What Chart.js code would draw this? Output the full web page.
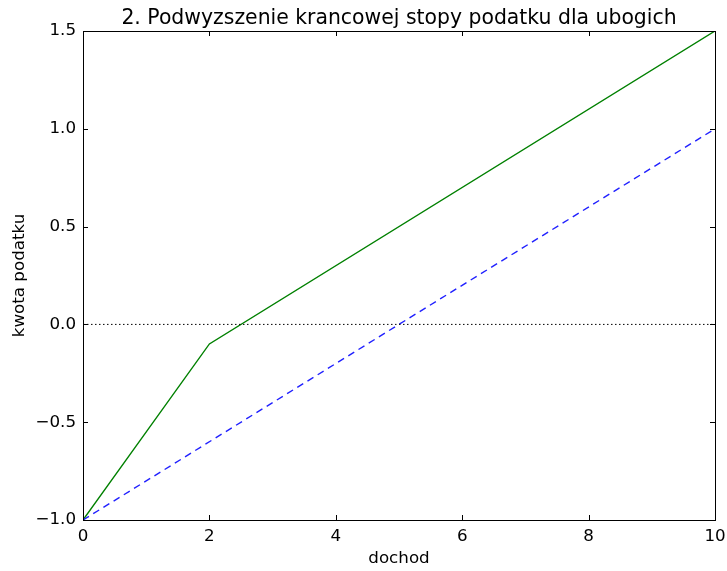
<!DOCTYPE html>
<html>
<head>
<meta charset="utf-8">
<script src="https://cdn.jsdelivr.net/npm/chart.js@4.4.0/dist/chart.umd.min.js"></script>
<style>
  html, body { margin: 0; padding: 0; background: #fff; }
  #wrap { width: 727px; height: 571px; }
</style>
</head>
<body>
<div id="wrap"><canvas id="chart" width="727" height="571"></canvas></div>
<script>
// dane
const incomeKinks = [0, 2, 10];
const taxNew = [-1.0, -0.1, 1.5];
const incomeBase = [0, 10];
const taxBase = [-1.0, 1.0];
const zeroX = [0, 10];
const zeroY = [0, 0];

const xTicks = [0, 2, 4, 6, 8, 10];
const yTicks = [-1.0, -0.5, 0.0, 0.5, 1.0, 1.5];
const chartTitle = '2. Podwyzszenie krancowej stopy podatku dla ubogich';

const toPoints = (xs, ys) => xs.map((x, i) => ({ x: x, y: ys[i] }));
const fmtMinus = (v) => String(v).replace('-', '\u2212');

// ramka, znaczniki do wewnatrz i tytul nad obszarem wykresu (styl matplotlib)
const frameTicks = {
    id: 'frameTicks',
    afterDraw(chart) {
        const { ctx, chartArea: a, scales } = chart;
        ctx.save();
        ctx.strokeStyle = '#000';
        ctx.lineWidth = 1;
        const len = 5;
        ctx.beginPath();
        xTicks.forEach(v => {
            const px = Math.round(scales.x.getPixelForValue(v)) + 0.5;
            ctx.moveTo(px, a.bottom); ctx.lineTo(px, a.bottom - len);
            ctx.moveTo(px, a.top); ctx.lineTo(px, a.top + len);
        });
        yTicks.forEach(v => {
            const py = Math.round(scales.y.getPixelForValue(v)) + 0.5;
            ctx.moveTo(a.left, py); ctx.lineTo(a.left + len, py);
            ctx.moveTo(a.right, py); ctx.lineTo(a.right - len, py);
        });
        ctx.stroke();
        ctx.strokeRect(Math.round(a.left) + 0.5, Math.round(a.top) + 0.5,
            Math.round(a.right - a.left), Math.round(a.bottom - a.top));

        ctx.fillStyle = '#000';
        ctx.font = '20.4px "DejaVu Sans"';
        ctx.textAlign = 'center';
        ctx.textBaseline = 'alphabetic';
        ctx.fillText(chartTitle, (a.left + a.right) / 2, 24);
        ctx.restore();
    }
};

new Chart(document.getElementById('chart'), {
    type: 'line',
    data: {
        datasets: [
            {
                label: 'zero',
                data: toPoints(zeroX, zeroY),
                borderColor: '#000',
                borderWidth: 1,
                borderDash: [1.5, 2.5],
                pointRadius: 0,
                fill: false
            },
            {
                label: 'bazowy',
                data: toPoints(incomeBase, taxBase),
                borderColor: '#2020ff',
                borderWidth: 1.4,
                borderDash: [7, 5],
                pointRadius: 0,
                fill: false
            },
            {
                label: 'nowy',
                data: toPoints(incomeKinks, taxNew),
                borderColor: '#008000',
                borderWidth: 1.4,
                pointRadius: 0,
                fill: false
            }
        ]
    },
    options: {
        responsive: false,
        animation: false,
        layout: { padding: { left: 0, right: 12, top: 31, bottom: 0 } },
        plugins: {
            legend: { display: false },
            tooltip: { enabled: false },
            title: { display: false }
        },
        scales: {
            x: {
                type: 'linear',
                min: 0,
                max: 10,
                afterFit: (s) => { s.height = 51; s.paddingRight = 0; s.paddingLeft = 0; },
                afterBuildTicks: (s) => { s.ticks = xTicks.map(v => ({ value: v })); },
                grid: { display: false, drawTicks: false },
                border: { display: false },
                ticks: {
                    color: '#000',
                    padding: 7,
                    maxRotation: 0,
                    font: { family: 'DejaVu Sans', size: 16.7 },
                    callback: (v) => fmtMinus(v)
                },
                title: {
                    display: true,
                    text: 'dochod',
                    color: '#000',
                    font: { family: 'DejaVu Sans', size: 16.7 },
                    padding: { top: 0, bottom: 2 }
                }
            },
            y: {
                type: 'linear',
                min: -1.0,
                max: 1.5,
                afterFit: (s) => { s.width = 83; s.paddingTop = 0; s.paddingBottom = 0; },
                afterBuildTicks: (s) => { s.ticks = yTicks.map(v => ({ value: v })); },
                grid: { display: false, drawTicks: false },
                border: { display: false },
                ticks: {
                    color: '#000',
                    padding: 7,
                    font: { family: 'DejaVu Sans', size: 16.7 },
                    callback: (v) => fmtMinus(v.toFixed(1))
                },
                title: {
                    display: true,
                    text: 'kwota podatku',
                    color: '#000',
                    font: { family: 'DejaVu Sans', size: 16.7 },
                    padding: { top: 10, bottom: 0 }
                }
            }
        }
    },
    plugins: [frameTicks]
});
</script>
</body>
</html>
